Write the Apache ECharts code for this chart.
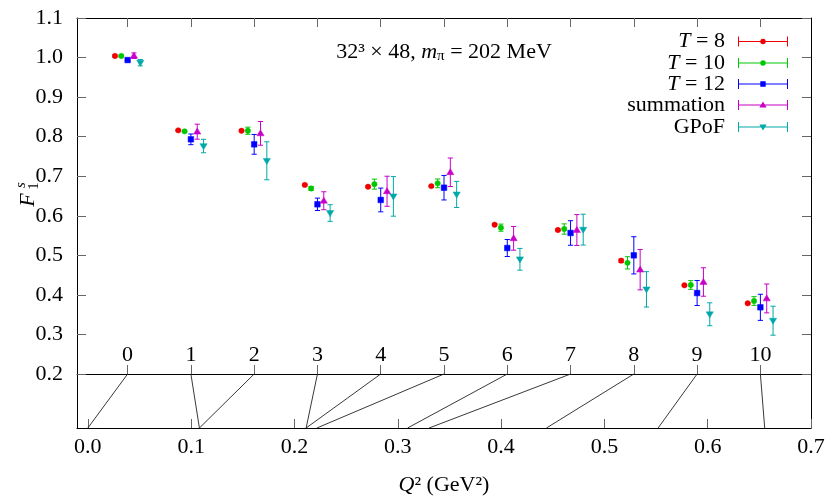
<!DOCTYPE html>
<html><head><meta charset="utf-8">
<script src="https://cdn.jsdelivr.net/npm/echarts@6/dist/echarts.min.js"></script>
<style>html,body{margin:0;padding:0;background:#fff}#c{width:830px;height:498px}</style>
</head><body><div id="c"></div>
<script>
// ---------- data ----------
const indexTicks = [0, 1, 2, 3, 4, 5, 6, 7, 8, 9, 10];
const q2Values = [0.0, 0.108, 0.108, 0.2113, 0.2113, 0.2217, 0.3095, 0.3303, 0.4439, 0.552, 0.6552];
const q2Ticks = [0.0, 0.1, 0.2, 0.3, 0.4, 0.5, 0.6, 0.7];
const seriesNames = ['T = 8', 'T = 10', 'T = 12', 'summation', 'GPoF'];
const t8 = [1.004, 0.816, 0.815, 0.678, 0.6735, 0.675, 0.5775, 0.564, 0.4865, 0.4242, 0.3787];
const t8Err = [0.002, 0.002, 0.002, 0.002, 0.002, 0.002, 0.002, 0.002, 0.004, 0.002, 0.002];
const t10 = [1.004, 0.8135, 0.815, 0.669, 0.680, 0.682, 0.570, 0.5665, 0.481, 0.425, 0.3845];
const t10Err = [0.002, 0.003, 0.009, 0.005, 0.0127, 0.011, 0.009, 0.013, 0.0155, 0.011, 0.011];
const t12 = [0.9937, 0.7933, 0.7806, 0.629, 0.640, 0.671, 0.5185, 0.5565, 0.500, 0.4047, 0.3686];
const t12Err = [0.003, 0.0135, 0.025, 0.0156, 0.030, 0.031, 0.0215, 0.031, 0.047, 0.0316, 0.033];
const summ = [1.0046, 0.8126, 0.8084, 0.638, 0.662, 0.710, 0.543, 0.564, 0.4637, 0.4326, 0.391];
const summErr = [0.007, 0.019, 0.03, 0.0227, 0.038, 0.036, 0.030, 0.039, 0.051, 0.036, 0.0365];
const gpof = [0.987, 0.7763, 0.739, 0.607, 0.649, 0.654, 0.490, 0.565, 0.414, 0.351, 0.3348];
const gpofErr = [0.008, 0.017, 0.048, 0.021, 0.05, 0.033, 0.0275, 0.039, 0.0447, 0.029, 0.0366];
const seriesOffsets = [-0.2, -0.1, 0, 0.1, 0.2];

// ---------- styles ----------
const FONT = 'Liberation Serif';
const FS = 22;
const colors = ['#f00000', '#00c800', '#0000ff', '#c800c8', '#00a8a8'];
const shapes = ['circle', 'circle', 'square', 'triUp', 'triDown'];
const IDX_MIN = -0.8, IDX_MAX = 10.8, Q2_MIN = -0.0105, Q2_MAX = 0.7;
const values = [t8, t10, t12, summ, gpof];
const errs = [t8Err, t10Err, t12Err, summErr, gpofErr];

function idxToQ2(i) { return Q2_MIN + (i - IDX_MIN) / (IDX_MAX - IDX_MIN) * (Q2_MAX - Q2_MIN); }

function markerShape(shape, cx, cy, color) {
  const st = { fill: color, stroke: color, lineWidth: 0.5 };
  if (shape === 'circle') return { type: 'circle', shape: { cx, cy, r: 2.7 }, style: st };
  if (shape === 'square') return { type: 'rect', shape: { x: cx - 2.8, y: cy - 2.8, width: 5.6, height: 5.6 }, style: st };
  if (shape === 'triUp') return { type: 'polygon', shape: { points: [[cx, cy - 3.6], [cx + 3.6, cy + 2.4], [cx - 3.6, cy + 2.4]] }, style: st };
  return { type: 'polygon', shape: { points: [[cx - 3.6, cy - 2.4], [cx + 3.6, cy - 2.4], [cx, cy + 3.6]] }, style: st };
}

function makeRender(k) {
  return function (params, api) {
    const x = api.value(0), y = api.value(1), e = api.value(2);
    const p = api.coord([x, y]), hi = api.coord([x, y + e]), lo = api.coord([x, y - e]);
    const c = colors[k], cap = 2.6;
    const ls = { stroke: c, lineWidth: 1 };
    return {
      type: 'group', children: [
        { type: 'line', shape: { x1: p[0], y1: hi[1], x2: p[0], y2: lo[1] }, style: ls },
        { type: 'line', shape: { x1: p[0] - cap, y1: hi[1], x2: p[0] + cap, y2: hi[1] }, style: ls },
        { type: 'line', shape: { x1: p[0] - cap, y1: lo[1], x2: p[0] + cap, y2: lo[1] }, style: ls },
        markerShape(shapes[k], p[0], p[1], c)
      ]
    };
  };
}

const iconBase = 'M0,4.5h50v1H0z M0,0h1v10H0z M49,0h1v10h-1z ';
const iconMarks = {
  circle: 'M22.3,5a2.7,2.7 0 1,1 5.4,0a2.7,2.7 0 1,1 -5.4,0z',
  square: 'M22.3,2.3h5.4v5.4h-5.4z',
  triUp: 'M25,1.4L28.6,7.4H21.4z',
  triDown: 'M21.4,2.6H28.6L25,8.6z'
};

const rich = {
  i: { fontFamily: FONT, fontSize: FS, fontStyle: 'italic', color: '#000' },
  n: { fontFamily: FONT, fontSize: FS, color: '#000' }
};
function legendFmt(name) {
  if (name.startsWith('T ')) return '{i|T}{n|' + name.slice(1) + '}';
  return '{n|' + name + '}';
}

const rowCenters = [37.5, 59, 80, 101, 123];
const legends = seriesNames.map((nm, k) => ({
  data: [{ name: nm, icon: 'path://' + iconBase + iconMarks[shapes[k]] }],
  orient: 'vertical', align: 'right', right: 37, top: rowCenters[k] - 12,
  itemWidth: 50, itemHeight: 10, selectedMode: false,
  formatter: legendFmt,
  textStyle: { fontFamily: FONT, fontSize: FS, color: '#000', padding: [0, 8, 0, 0], rich }
}));

const errSeries = seriesNames.map((nm, k) => ({
  name: nm, type: 'custom', xAxisIndex: 0, yAxisIndex: 0,
  itemStyle: { color: colors[k] },
  renderItem: makeRender(k),
  encode: { x: 0, y: 1 },
  data: indexTicks.map((ix, j) => [ix + seriesOffsets[k], values[k][j], errs[k][j]]),
  z: 10 + k
}));

const mapSeries = {
  type: 'custom', xAxisIndex: 2, yAxisIndex: 2,
  renderItem: function (params, api) {
    const ix = api.value(0), q = api.value(1);
    const top = api.coord([idxToQ2(ix), 1]);
    const bot = api.coord([q, 0]);
    return { type: 'line', shape: { x1: top[0], y1: top[1], x2: bot[0], y2: bot[1] }, style: { stroke: '#222', lineWidth: 0.9 } };
  },
  data: indexTicks.map((ix, j) => [ix, q2Values[j]]),
  silent: true
};

const axisLineStyle = { color: '#000', width: 1 };
const tickStyle = { color: '#666', width: 1 };
const labelStyle = { fontFamily: FONT, fontSize: FS, color: '#000' };

const option = {
  animation: false,
  color: colors,
  grid: [
    { left: 77, right: 19, top: 18, height: 356 },
    { left: 77, right: 19, top: 374, height: 54 }
  ],
  legend: legends,
  xAxis: [
    { gridIndex: 0, type: 'value', min: IDX_MIN, max: IDX_MAX, position: 'bottom',
      axisLine: { show: true, onZero: false, lineStyle: axisLineStyle },
      axisTick: { inside: true, length: 9, customValues: indexTicks, lineStyle: tickStyle },
      axisLabel: Object.assign({ inside: true, margin: 8, customValues: indexTicks, formatter: v => String(Math.round(v)) }, labelStyle),
      splitLine: { show: false } },
    { gridIndex: 0, type: 'value', min: IDX_MIN, max: IDX_MAX, position: 'top',
      axisLine: { show: true, onZero: false, lineStyle: axisLineStyle },
      axisTick: { inside: true, length: 9, customValues: indexTicks, lineStyle: tickStyle },
      axisLabel: { show: false }, splitLine: { show: false } },
    { gridIndex: 1, type: 'value', min: Q2_MIN, max: Q2_MAX, position: 'bottom',
      axisLine: { show: true, onZero: false, lineStyle: axisLineStyle },
      axisTick: { inside: true, length: 9, customValues: q2Ticks, lineStyle: tickStyle },
      axisLabel: Object.assign({ margin: 8, customValues: q2Ticks, formatter: v => v.toFixed(1) }, labelStyle),
      splitLine: { show: false },
      name: '{i|Q}{n|² (GeV²)}', nameLocation: 'middle', nameGap: 46,
      nameTextStyle: { fontFamily: FONT, fontSize: FS, color: '#000', rich } }
  ],
  yAxis: [
    { gridIndex: 0, type: 'value', min: 0.2, max: 1.1, interval: 0.1, position: 'left',
      axisLine: { show: true, onZero: false, lineStyle: axisLineStyle },
      axisTick: { inside: true, length: 9, lineStyle: tickStyle },
      axisLabel: Object.assign({ margin: 14, formatter: v => v.toFixed(1) }, labelStyle),
      splitLine: { show: false } },
    { gridIndex: 0, type: 'value', min: 0.2, max: 1.1, interval: 0.1, position: 'right',
      axisLine: { show: true, onZero: false, lineStyle: axisLineStyle },
      axisTick: { inside: true, length: 9, lineStyle: tickStyle },
      axisLabel: { show: false }, splitLine: { show: false } },
    { gridIndex: 1, type: 'value', min: 0, max: 1, position: 'left',
      axisLine: { show: true, onZero: false, lineStyle: axisLineStyle },
      axisTick: { show: false }, axisLabel: { show: false }, splitLine: { show: false } },
    { gridIndex: 1, type: 'value', min: 0, max: 1, position: 'right',
      axisLine: { show: true, onZero: false, lineStyle: axisLineStyle },
      axisTick: { show: false }, axisLabel: { show: false }, splitLine: { show: false } }
  ],
  graphic: [
    { type: 'text', x: 444, y: 52, z: 20,
      style: { text: '{n|32³ × 48, }{i|m}{s|π}{n| = 202 MeV}', align: 'center', verticalAlign: 'middle',
        rich: Object.assign({ s: { fontFamily: FONT, fontSize: 15, color: '#000', padding: [9, 0, 0, 0] } }, rich) } },
    { type: 'group', x: 28, y: 192, rotation: Math.PI / 2, z: 20, children: [
      { type: 'text', x: -8, y: 0, style: { text: 'F', fontFamily: FONT, fontSize: FS, fontStyle: 'italic', fill: '#000', align: 'center', verticalAlign: 'middle' } },
      { type: 'text', x: 7, y: -7, style: { text: 's', fontFamily: FONT, fontSize: 15, fontStyle: 'italic', fill: '#000', align: 'center', verticalAlign: 'middle' } },
      { type: 'text', x: 6, y: 6, style: { text: '1', fontFamily: FONT, fontSize: 15, fill: '#000', align: 'center', verticalAlign: 'middle' } }
    ] }
  ],
  series: errSeries.concat([mapSeries])
};

const chart = echarts.init(document.getElementById('c'), null, { renderer: 'canvas' });
chart.setOption(option);
</script>
</body></html>
